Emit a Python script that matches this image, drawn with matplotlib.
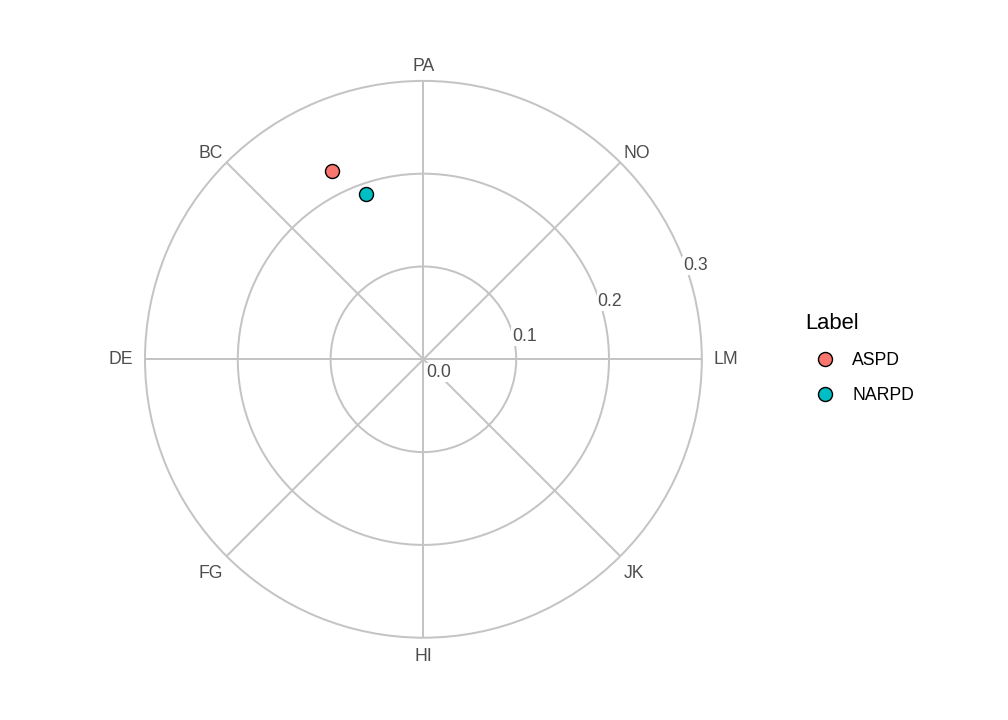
import numpy as np
import matplotlib
matplotlib.use("Agg")
import matplotlib.pyplot as plt
from matplotlib.transforms import offset_copy
from matplotlib.lines import Line2D

# ---- data ----
octants = ["LM", "NO", "PA", "BC", "DE", "FG", "HI", "JK"]
octant_angles = [0, 45, 90, 135, 180, 225, 270, 315]
labels = ["ASPD", "NARPD"]
angles_deg = [115.9, 109.1]
amplitudes = [0.226, 0.189]
colors = ["#F8766D", "#00BFC4"]
r_ticks = [0.0, 0.1, 0.2, 0.3]
r_tick_labels = ["0.0", "0.1", "0.2", "0.3"]

plt.rcParams["font.family"] = ["Liberation Sans", "DejaVu Sans"]
grid_col = "#C4C4C4"
txt_col = "#4D4D4D"

fig = plt.figure(figsize=(7, 5), dpi=144)
ax = fig.add_axes([145 / 1008, 82.3 / 720, 556.8 / 1008, 556.8 / 720], projection="polar")
ax.set_ylim(0, 0.3)
ax.set_thetagrids(octant_angles, labels=[""] * len(octants))
ax.set_rgrids([0.1, 0.2], labels=["", ""])
ax.grid(True, color=grid_col, linewidth=1.0)
ax.spines["polar"].set_color(grid_col)
ax.spines["polar"].set_linewidth(1.0)
ax.tick_params(length=0)
ax.set_facecolor("white")

# octant labels (pixel offsets from the outer circle)
for name, a in zip(octants, octant_angles):
    t = np.deg2rad(a)
    c, s = np.cos(t), np.sin(t)
    ha = "left" if c > 0.1 else ("right" if c < -0.1 else "center")
    va = "baseline" if s > 0.1 else ("top" if s < -0.1 else "center")
    if abs(c) > 0.1 and abs(s) > 0.1:
        dx = 3.5 * np.sign(c)
        dy = 4.5 if s > 0 else -8.5
    elif abs(c) > 0.1:
        dx, dy = 11.5 * np.sign(c), 0
    else:
        dx, dy = 0, (10 if s > 0 else -10)
    tr = offset_copy(ax.transData, fig=fig, x=dx, y=dy, units="dots")
    ax.text(t, 0.3, name, transform=tr, ha=ha, va=va, fontsize=8.8, color=txt_col, clip_on=False)

# radial labels
rl_tr = offset_copy(ax.transData, fig=fig, x=15, y=-13, units="dots")
for r, lab in zip(r_ticks, r_tick_labels):
    ax.text(np.deg2rad(22.5), r, lab, transform=rl_tr, ha="center", va="center",
            fontsize=8.8, color=txt_col, zorder=5,
            bbox=dict(boxstyle="square,pad=0.05", fc="white", ec="none"))

# points
handles = []
for lab, a, r, col in zip(labels, angles_deg, amplitudes, colors):
    ax.plot(np.deg2rad(a), r, "o", markersize=7, markerfacecolor=col,
            markeredgecolor="black", markeredgewidth=0.7, zorder=6, clip_on=False)
    handles.append(Line2D([], [], linestyle="none", marker="o", markersize=7,
                          markerfacecolor=col, markeredgecolor="black",
                          markeredgewidth=0.7, label=lab))

leg = fig.legend(handles=handles, title="Label", loc="upper left",
                 bbox_to_anchor=(798 / 1008, 1 - 306 / 720), frameon=False,
                 fontsize=8.8, title_fontsize=11, labelspacing=1.02,
                 handlelength=2.27, handletextpad=0.4, borderaxespad=0)
leg._legend_box.align = "left"

fig.savefig("out.png", dpi=144, facecolor="white")
